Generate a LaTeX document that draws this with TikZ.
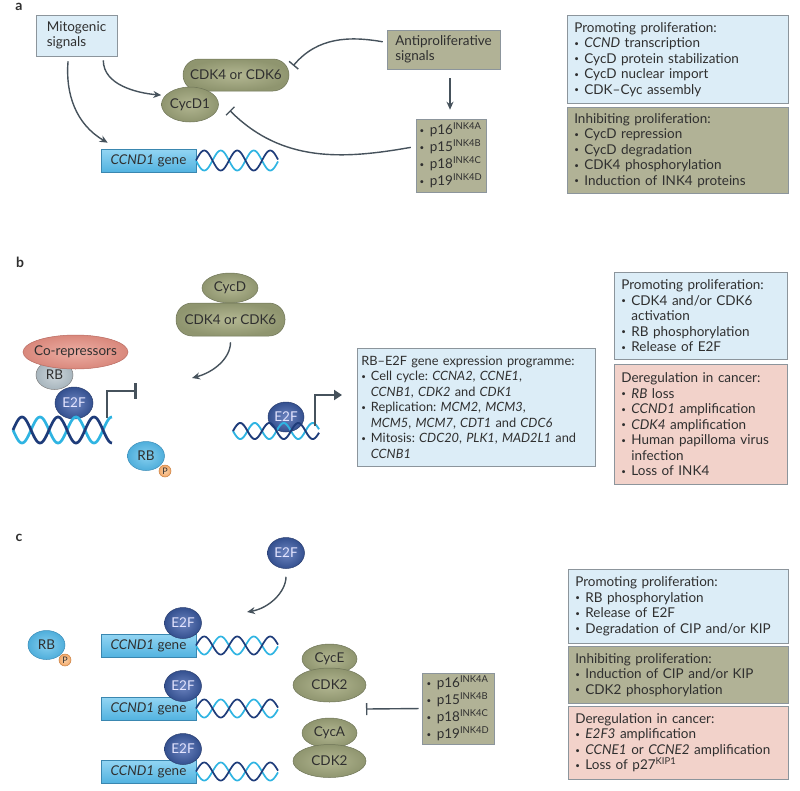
\documentclass[tikz,border=0pt]{standalone}
\usepackage{fontspec}
\setmainfont{Lato}
\usepackage{tikz}
\usetikzlibrary{arrows.meta,shapes.geometric}
\frenchspacing
\definecolor{textc}{HTML}{2F2F2F}
\definecolor{boxblue}{HTML}{DCEDF7}
\definecolor{boxolive}{HTML}{B1B296}
\definecolor{boxsalmon}{HTML}{F2D2CA}
\definecolor{boxline}{HTML}{8C959C}
\definecolor{olivein}{HTML}{B3B792}
\definecolor{oliveout}{HTML}{8F956F}
\definecolor{oliveline}{HTML}{6F7558}
\definecolor{e2fin}{HTML}{6C84C0}
\definecolor{e2fout}{HTML}{34508F}
\definecolor{e2fline}{HTML}{2B3F70}
\definecolor{rbgin}{HTML}{CDD6DB}
\definecolor{rbgout}{HTML}{A7B5BD}
\definecolor{rbbin}{HTML}{86CFEF}
\definecolor{rbbout}{HTML}{4FAEDB}
\definecolor{rbbline}{HTML}{3C8DB8}
\definecolor{corin}{HTML}{EDAEA4}
\definecolor{corout}{HTML}{D9887C}
\definecolor{corline}{HTML}{B86A60}
\definecolor{phosin}{HTML}{FAD0A8}
\definecolor{phosout}{HTML}{F2A868}
\definecolor{phosline}{HTML}{C97F40}
\definecolor{arrowc}{HTML}{46525C}
\definecolor{dnadark}{HTML}{1E3C7A}
\definecolor{dnalight}{HTML}{2FB4E2}
\definecolor{genetop}{HTML}{93D5F3}
\definecolor{genebot}{HTML}{52B3E0}
\definecolor{geneline}{HTML}{3A87B0}
\newcommand{\boxfont}{\fontsize{13.5}{15.5}\selectfont}
\newcommand{\bul}{\makebox[0.75em][l]{\raisebox{0.1em}{\footnotesize\textbullet}}}
\newcommand{\ink}[2]{p#1\textsuperscript{INK4#2}}
\tikzset{
  every node/.style={text=textc},
  lab/.style={font=\fontsize{14}{16}\selectfont\bfseries},
  sigbox/.style={draw=boxline, line width=0.6pt, align=left, inner sep=0pt, font=\boxfont},
  infobox/.style={draw=boxline, line width=0.6pt, anchor=north west, align=left,
    inner xsep=7pt, inner ysep=3pt, font=\boxfont},
  inkbox/.style={sigbox, fill=boxolive, font=\fontsize{13.5}{17}\selectfont},
  cyc/.style={ellipse, draw=oliveline, line width=0.5pt, inner sep=0pt,
    inner color=olivein, outer color=oliveout, font=\boxfont},
  pill/.style={cyc, rectangle, rounded corners=16pt},
  e2f/.style={ellipse, draw=e2fline, line width=0.5pt, inner sep=0pt,
    inner color=e2fin, outer color=e2fout, text=blue!10!white, font=\boxfont,
    minimum width=37pt, minimum height=31pt},
  rbg/.style={ellipse, draw=gray, line width=0.5pt, inner sep=0pt,
    inner color=rbgin, outer color=rbgout, font=\boxfont},
  rbb/.style={ellipse, draw=rbbline, line width=0.5pt, inner sep=0pt,
    inner color=rbbin, outer color=rbbout, font=\boxfont,
    minimum width=37pt, minimum height=29pt},
  corep/.style={ellipse, draw=corline, line width=0.5pt, inner sep=0pt,
    inner color=corin, outer color=corout, font=\boxfont},
  phos/.style={circle, draw=phosline, line width=0.5pt, inner sep=0pt, minimum size=12pt,
    inner color=phosin, outer color=phosout, font=\fontsize{9}{10}\selectfont},
  gene/.style={draw=geneline, line width=0.6pt, top color=genetop, bottom color=genebot,
    minimum width=95pt, minimum height=23pt, inner sep=0pt, font=\boxfont},
  act/.style={draw=arrowc, line width=1.4pt, -{Stealth[length=8pt,width=7pt]}},
  inh/.style={draw=arrowc, line width=1.4pt, -{Bar[width=12pt]}},
  prom/.style={draw=arrowc, line width=2.6pt},
}
% two strands of a helix: x0, x1, centre, amplitude, period, line width
\newcommand{\dna}[6]{%
  \draw[dnalight, line width=#6] plot[domain=#1:#2, samples=90, smooth]
    (\x, {#3 + #4*sin((\x-#1)/#5*360)});
  \draw[dnadark, line width=#6] plot[domain=#1:#2, samples=90, smooth]
    (\x, {#3 - #4*sin((\x-#1)/#5*360)});
}

\begin{document}
\begin{tikzpicture}[x=1pt, y=-1pt]
\useasboundingbox (0,0) rectangle (800,790);

% panel a
\node[lab] (la) at (19,7) {a};
\node[sigbox, fill=boxblue, minimum width=81pt, minimum height=41pt] (mito) at (76.5,35.5) {Mitogenic\\signals};
\node[sigbox, fill=boxolive, minimum width=113pt, minimum height=39pt] (anti) at (443.5,49.5) {Antiproliferative\\signals};
\node[pill, minimum width=106pt, minimum height=32pt] (cdka) at (236,75) {CDK4 or CDK6};
\node[cyc, minimum width=57pt, minimum height=35pt] (cycda) at (190,104.5) {CycD1};
\node[gene] (genea) at (148.5,160.5) {\textit{CCND1} gene};
\dna{196}{278}{160.5}{10}{33}{1.7pt}
\node[inkbox, minimum width=70pt, minimum height=73pt] (inka) at (451,155.5)
  {\bul\ink{16}{A}\\\bul\ink{15}{B}\\\bul\ink{18}{C}\\\bul\ink{19}{D}};

\draw[act, shorten <=4pt, shorten >=4pt] ([xshift=-14pt]mito.south east) to[out=-90, in=175] (cycda.160);
\draw[act, shorten <=5pt] ([xshift=-8pt]mito.south) to[out=-95, in=150] ([shift={(7,-6)}]genea.north west);
\draw[inh, shorten <=4pt] ([yshift=7pt]anti.west) to[out=170, in=50] ([shift={(4,7)}]cdka.north east);
\draw[act, shorten <=9pt, shorten >=9pt] ([xshift=6.5pt]anti.south) -- ([xshift=-1pt]inka.north);
\draw[inh, shorten <=5pt] ([yshift=9pt]inka.west) to[out=190, in=-45] ([shift={(11,6)}]cycda.east);

\node[infobox, fill=boxblue, text width=207pt, minimum height=88pt] (apro) at (567,15)
  {Promoting proliferation:\\
   \bul\textit{CCND} transcription\\
   \bul CycD protein stabilization\\
   \bul CycD nuclear import\\
   \bul CDK--Cyc assembly};
\node[infobox, fill=boxolive, text width=207pt, minimum height=86pt] (ainh) at (567,107)
  {Inhibiting proliferation:\\
   \bul CycD repression\\
   \bul CycD degradation\\
   \bul CDK4 phosphorylation\\
   \bul Induction of INK4 proteins};

% panel b
\node[lab] (lb) at (20,262) {b};
\node[cyc, minimum width=56pt, minimum height=30pt] (cycdb) at (230,288) {CycD};
\node[pill, minimum width=109pt, minimum height=33pt] (cdkb) at (230.5,319.5) {CDK4 or CDK6};
\coordinate (bto) at (192,378);
\draw[act, shorten <=6pt] (cdkb.south) to[out=-90, in=15] (bto);

\node[rbg, minimum width=37pt, minimum height=29pt] (rbl) at (54.5,375) {RB};
\node[corep, inner xsep=-8pt, minimum width=105pt, minimum height=34pt] (corep) at (75.5,352) {Co-repressors};
\node[e2f, minimum width=38pt, minimum height=32pt] (e2fl) at (74,403) {E2F};
\dna{13}{112}{430}{13}{36}{2.7pt}
\coordinate (tssl) at (107,418);
\coordinate (repr) at (137,391);
\draw[prom, -{Bar[width=16pt]}] (tssl) |- (repr);

\node[rbb] (rbpb) at (146,456) {RB};
\node[phos] (pb) at (165,471) {P};

\node[e2f, minimum width=36pt, minimum height=30pt] (e2fm) at (286,417) {E2F};
\dna{233}{319}{431}{8}{29}{1.9pt}
\coordinate (tssm) at (315,426);
\coordinate (actv) at (342,395);
\draw[prom, -{Triangle[length=8pt,width=10pt]}] (tssm) |- (actv);

\node[infobox, fill=boxblue, inner xsep=4pt, text width=230pt, minimum height=118pt,
  font=\fontsize{12.8}{15.5}\selectfont] (prog) at (357,348)
  {\mbox{RB--E2F gene expression programme:}\\
   \mbox{\bul Cell cycle: \textit{CCNA2}, \textit{CCNE1},}\\
   \mbox{\hspace*{0.75em}\textit{CCNB1}, \textit{CDK2} and \textit{CDK1}}\\
   \mbox{\bul Replication: \textit{MCM2}, \textit{MCM3},}\\
   \mbox{\hspace*{0.75em}\textit{MCM5}, \textit{MCM7}, \textit{CDT1} and \textit{CDC6}}\\
   \mbox{\bul Mitosis: \textit{CDC20}, \textit{PLK1}, \textit{MAD2L1} and}\\
   \mbox{\hspace*{0.75em}\textit{CCNB1}}};
\node[infobox, fill=boxblue, text width=159pt, minimum height=87pt] (bpro) at (614,272)
  {Promoting proliferation:\\
   \bul CDK4 and/or CDK6\\
   \hspace*{0.75em}activation\\
   \bul RB phosphorylation\\
   \bul Release of E2F};
\node[infobox, fill=boxsalmon, text width=159pt, minimum height=120pt] (bcan) at (614,364)
  {Deregulation in cancer:\\
   \bul\textit{RB} loss\\
   \bul\textit{CCND1} amplification\\
   \bul\textit{CDK4} amplification\\
   \bul Human papilloma virus\\
   \hspace*{0.75em}infection\\
   \bul Loss of INK4};

% panel c
\node[lab] (lc) at (19,538) {c};
\node[e2f] (e2fc) at (286,553) {E2F};
\coordinate (e2fto) at (247,612);
\draw[act, shorten <=8pt] (e2fc.south) to[out=-90, in=10] (e2fto);

\node[rbb] (rbpc) at (46.5,645) {RB};
\node[phos] (pc) at (65,660) {P};

\foreach \r/\yy in {1/0, 2/63, 3/126}{
\begin{scope}[yshift=-\yy pt]
\node[gene] (gene\r) at (148.5,645.5) {\textit{CCND1} gene};
\dna{196}{278}{645.5}{9}{33}{1.7pt}
\node[e2f] (e2f\r) at (183,623) {E2F};
\end{scope}
}

\node[cyc, minimum width=55pt, minimum height=30pt] (cyce) at (329.5,659) {CycE};
\node[cyc, minimum width=73pt, minimum height=34pt] (cdk2e) at (329.5,685) {CDK2};
\node[cyc, minimum width=55pt, minimum height=30pt] (cyca) at (329.5,733) {CycA};
\node[cyc, minimum width=73pt, minimum height=33pt] (cdk2a) at (329.5,761) {CDK2};

\node[inkbox, minimum width=72pt, minimum height=71pt] (inkc) at (458,708.5)
  {\bul\ink{16}{A}\\\bul\ink{15}{B}\\\bul\ink{18}{C}\\\bul\ink{19}{D}};
\coordinate (cdkgap) at (366,709);
\draw[inh, shorten <=3pt] (inkc.west) -- (cdkgap);

\node[infobox, fill=boxblue, text width=206pt, minimum height=74pt] (cpro) at (568,569)
  {Promoting proliferation:\\
   \bul RB phosphorylation\\
   \bul Release of E2F\\
   \bul Degradation of CIP and/or KIP};
\node[infobox, fill=boxolive, text width=206pt, minimum height=57pt] (cinh) at (568,646)
  {Inhibiting proliferation:\\
   \bul Induction of CIP and/or KIP\\
   \bul CDK2 phosphorylation};
\node[infobox, fill=boxsalmon, text width=206pt, minimum height=73pt] (ccan) at (568,706)
  {Deregulation in cancer:\\
   \bul\textit{E2F3} amplification\\
   \bul\textit{CCNE1} or \textit{CCNE2} amplification\\
   \bul Loss of p27\textsuperscript{KIP1}};
\end{tikzpicture}
\end{document}
